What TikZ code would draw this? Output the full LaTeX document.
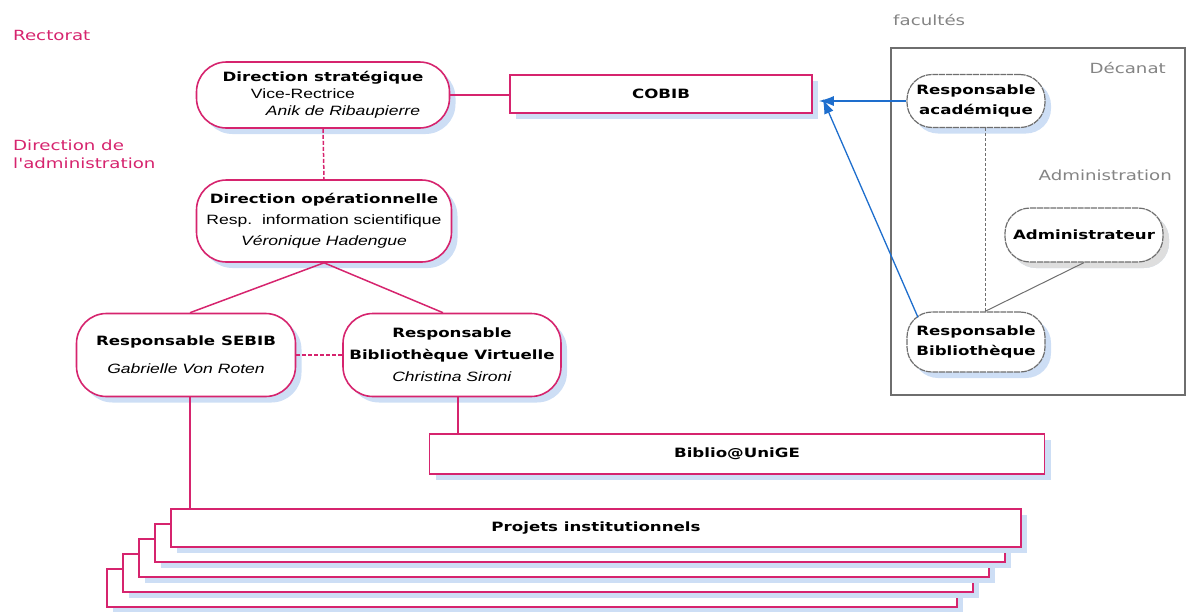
\documentclass[tikz,border=0pt]{standalone}
\usepackage{fontspec}
\setmainfont[FakeStretch=1.3]{Liberation Sans}
\newfontfamily\titref[FakeStretch=1.3]{DejaVu Sans}
\usetikzlibrary{shadows,arrows.meta}
\definecolor{rose}{RGB}{214,36,110}
\definecolor{ombrebleue}{RGB}{205,222,245}
\definecolor{ombregrise}{RGB}{222,222,222}
\definecolor{fleche}{RGB}{30,110,205}
\definecolor{grisfac}{RGB}{110,110,110}
\newcommand{\titre}[1]{{\titref\bfseries\fontsize{12.8}{15}\selectfont #1}}
\begin{document}
\begin{tikzpicture}[x=1pt,y=-1pt,
    ombre/.style={drop shadow={shadow xshift=6pt,shadow yshift=-6pt,fill=#1,opacity=1}},
    rond/.style={draw=rose,line width=1.6pt,fill=white,rounded corners=30pt,align=center,inner sep=0pt,
        font=\fontsize{13.5}{18}\selectfont,ombre=ombrebleue},
    boite/.style={draw=rose,line width=1.6pt,fill=white,inner sep=0pt,minimum height=38pt,ombre=ombrebleue},
    ovfac/.style={draw=grisfac,line width=1.2pt,dashed,dash pattern=on 6pt off 0.8pt,fill=white,rounded corners=25pt,
        align=center,inner sep=0pt,minimum width=138pt,ombre=ombrebleue},
    etiq/.style={text=rose,font=\titref\fontsize{14}{18}\selectfont,anchor=west,inner sep=0pt},
    etiqfac/.style={text=grisfac!85,font=\titref\fontsize{14}{18}\selectfont,inner sep=0pt},
    lien/.style={draw=rose,line width=1.5pt},
    vers/.style={draw=fleche,line width=1.3pt,-{Latex[length=15pt,width=10pt]}}]
    \useasboundingbox (0,0) rectangle (1186,611);

    % niveaux
    \node[etiq] (rect) at (13,35) {Rectorat};
    \node[etiq,align=left] (diradm) at (13,154) {Direction de\\l'administration};

    % facultes
    \node[etiqfac,anchor=west] (fac) at (893,20) {facultés};
    \draw[grisfac,line width=1.5pt] (891,48) rectangle (1185,395);
    \node[etiqfac,anchor=east] (decanat) at (1166,68) {Décanat};
    \node[etiqfac,anchor=east] (adm) at (1172,175) {Administration};

    % direction
    \node[rond,minimum width=253pt,minimum height=66pt] (strat) at (323,95)
        {\titre{Direction stratégique}\\[-1pt]\hspace*{-40pt}Vice-Rectrice\\[-1pt]\hspace*{40pt}\textit{Anik de Ribaupierre}};
    \node[rond,minimum width=255pt,minimum height=82pt,font=\fontsize{13.5}{21}\selectfont] (oper) at (324,221)
        {\titre{Direction opérationnelle}\\Resp.\ \ information scientifique\\\textit{Véronique Hadengue}};
    \node[boite,minimum width=302pt] (cobib) at (661,94) {\titre{COBIB}};

    \node[rond,minimum width=219pt,minimum height=83pt] (sebib) at (186,355)
        {\titre{Responsable SEBIB}\\[10pt]\textit{Gabrielle Von Roten}};
    \node[rond,minimum width=218pt,minimum height=83pt,font=\fontsize{13.5}{22}\selectfont] (bv) at (452,355)
        {\titre{Responsable}\\\titre{Bibliothèque Virtuelle}\\\textit{Christina Sironi}};
    \node[boite,minimum width=615pt,minimum height=40pt] (biblio) at (737,454) {\titre{Biblio@UniGE}};

    % projets empiles
    \foreach \i in {4,3,2,1,0}
        \node[boite,minimum width=850pt] (proj\i) at (596-16*\i,528+15*\i) {};
    \node at (proj0) {\titre{Projets institutionnels}};

    % acteurs facultaires
    \node[ovfac,minimum height=53pt] (acad) at (976,101)
        {\titre{Responsable}\\[7pt]\titre{académique}};
    \node[ovfac,minimum width=158pt,minimum height=54pt,ombre=ombregrise] (admin) at (1084,235)
        {\titre{Administrateur}};
    \node[ovfac,minimum height=60pt] (respbib) at (976,342)
        {\titre{Responsable}\\[6pt]\titre{Bibliothèque}};

    % liens
    \draw[lien] (strat.east) -- (strat.east -| cobib.west);
    \draw[lien,dashed,dash pattern=on 4pt off 2pt] (strat.south) -- (oper.north);
    \draw[lien] (oper.south) -- ([xshift=4pt]sebib.north);
    \draw[lien] (oper.south) -- ([xshift=-9pt]bv.north);
    \draw[lien,dashed,dash pattern=on 4pt off 2pt] (sebib.east) -- (bv.west);
    \draw[lien] ([xshift=6pt]bv.south) -- ([xshift=6pt]bv.south |- biblio.north);
    \draw[lien] ([xshift=4pt]sebib.south) -- ([xshift=4pt]sebib.south |- proj0.north);

    \draw[grisfac,line width=1pt,dashed,dash pattern=on 3pt off 2pt] ([xshift=9pt]acad.south) -- ([xshift=9pt]respbib.north);
    \draw[grisfac,line width=1pt] (admin.south) -- ([xshift=9pt]respbib.north);

    \draw[vers] (acad.west) -- ([xshift=6pt]acad.west -| cobib.east);
    \draw[vers] ([xshift=-58pt,yshift=-6pt]respbib.north) -- ([xshift=10pt,yshift=15pt]cobib.south east);
\end{tikzpicture}
\end{document}
